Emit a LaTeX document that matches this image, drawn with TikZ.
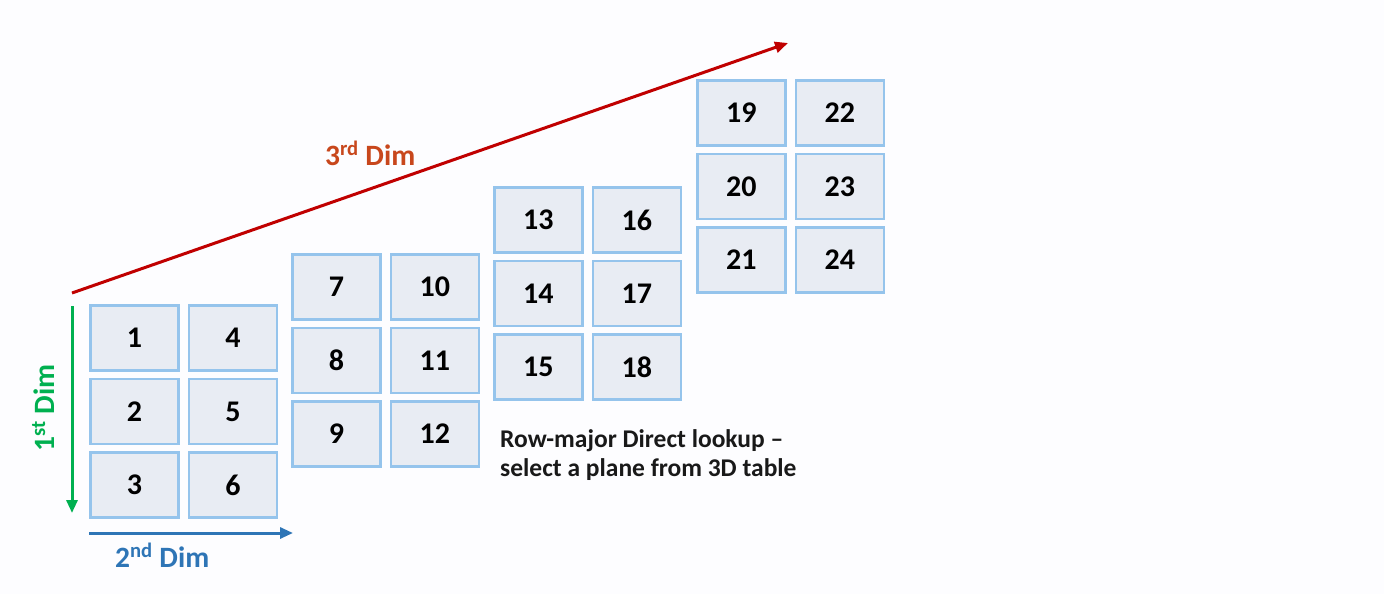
\documentclass[tikz,border=0pt]{standalone}
\usepackage{fontspec}
\setmainfont{Carlito}
\usetikzlibrary{arrows.meta}
\definecolor{boxfill}{HTML}{E8ECF3}
\definecolor{boxline}{HTML}{95C4EC}
\definecolor{dimred}{HTML}{C00000}
\definecolor{dimorange}{HTML}{C8471C}
\definecolor{dimgreen}{HTML}{00B050}
\definecolor{dimblue}{HTML}{2E75B6}
\definecolor{bg}{HTML}{FDFDFF}
\tikzset{
  cell/.style={draw=boxline, fill=boxfill, line width=2.8pt, rectangle,
    minimum width=88pt, minimum height=65pt, anchor=north west, inner sep=0pt,
    font=\fontsize{30}{34}\selectfont\bfseries, text=black},
  axis/.style={line width=3pt, -{Triangle[length=13pt,width=11pt]}},
  dimlabel/.style={font=\fontsize{29.5}{34}\selectfont\bfseries, inner sep=0pt},
  note/.style={font=\fontsize{25.5}{30}\selectfont\bfseries, text=black!90, inner sep=0pt, anchor=base west}
}
\begin{document}
\begin{tikzpicture}[x=1pt,y=-1pt]
\fill[bg] (0,0) rectangle (1384,594);
\useasboundingbox (0,0) rectangle (1384,594);
% groups
\foreach \gx/\gy/\base in {89/304/0, 291/253/6, 493/186/12, 696/79/18}{
  \foreach \c in {0,1}{
    \foreach \r in {0,1,2}{
      \pgfmathtruncatemacro{\n}{\base+\c*3+\r+1}
      \node[cell] (b\n) at (\gx+\c*98.5, \gy+\r*73.5) {\n};
    }
  }
}
% axes
\coordinate (gs) at (72,306);
\coordinate (ge) at (72,513);
\coordinate (bs) at (89,533);
\coordinate (be) at (293,533);
\coordinate (rs) at (72,293);
\coordinate (re) at (788,43);
\draw[axis, dimgreen] (gs) -- (ge);
\draw[axis, dimblue] (bs) -- (be);
\draw[axis, dimred] (rs) -- (re);
% labels
\node[dimlabel, text=dimgreen, rotate=90] (l1) at (43,408) {1\textsuperscript{st} Dim};
\node[dimlabel, text=dimblue, anchor=base west] (l2) at (115,567) {2\textsuperscript{nd} Dim};
\node[dimlabel, text=dimorange, anchor=base west] (l3) at (325,165) {3\textsuperscript{rd} Dim};
\node[note] (n1) at (500,447) {Row-major Direct lookup –};
\node[note] (n2) at (500,476) {select a plane from 3D table};
\end{tikzpicture}
\end{document}
